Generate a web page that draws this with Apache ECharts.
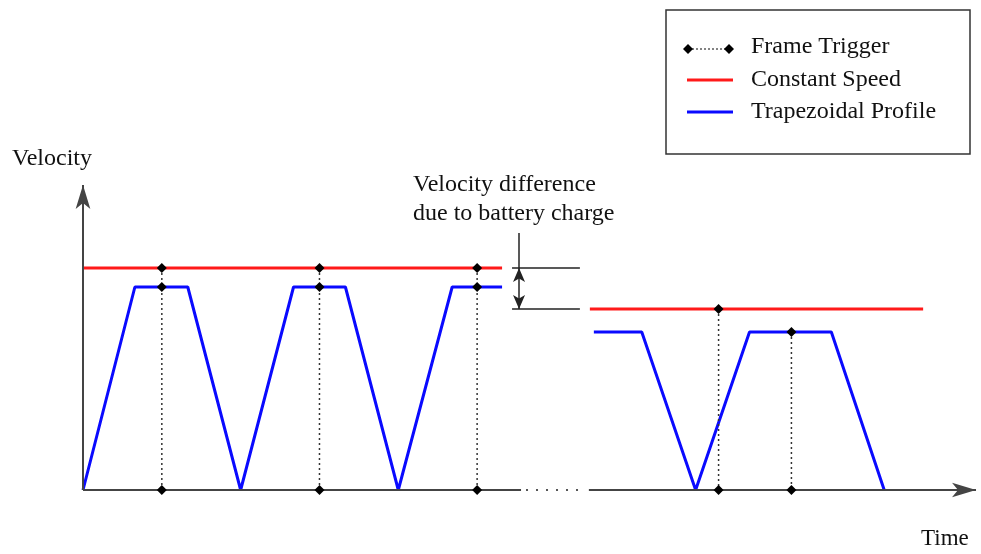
<!DOCTYPE html>
<html>
<head>
<meta charset="utf-8">
<script src="https://cdn.jsdelivr.net/npm/echarts@6/dist/echarts.min.js"></script>
<style>
  html, body { margin: 0; padding: 0; background: #fff; }
  #chart { width: 981px; height: 554px; }
</style>
</head>
<body>
<div id="chart"></div>
<script>
// time / velocity in arbitrary units
const blueRun1 = [[0, 0], [5.2, 20.3], [10.5, 20.3], [15.8, 0], [21.1, 20.3], [26.3, 20.3], [31.6, 0], [37.0, 20.3], [42.0, 20.3]]
const blueRun2 = [[51.2, 15.8], [56.0, 15.8], [61.4, 0], [66.8, 15.8], [75.0, 15.8], [80.3, 0]]
const redRun1 = [[0, 22.2], [42.0, 22.2]]
const redRun2 = [[50.8, 18.1], [84.2, 18.1]]
const triggerTimes = [7.9, 23.7, 39.5, 63.7, 71.0]
const triggerLevels = [[22.2, 20.3, 0], [22.2, 20.3, 0], [22.2, 20.3, 0], [18.1, 0], [15.8, 0]]
const legendLabels = ['Frame Trigger', 'Constant Speed', 'Trapezoidal Profile']
const annotationLines = ['Velocity difference', 'due to battery charge']

const FONT = 'Liberation Serif'
const myChart = echarts.init(document.getElementById('chart'))

const triggerSeries = triggerTimes.map(function(t, i) {
  return {
    name: 'Frame Trigger',
    type: 'line',
    z: 5,
    symbol: 'diamond',
    symbolSize: 10,
    itemStyle: { color: '#000' },
    lineStyle: { color: '#333', width: 1.5, type: [2, 3] },
    data: triggerLevels[i].map(function(v) { return [t, v] })
  }
})

function seg(a, b, s1, s2, size) {
  return [
    { coord: a, symbol: s1 || 'none', symbolSize: size },
    { coord: b, symbol: s2 || 'none', symbolSize: size }
  ]
}

function label(text, x, y, size) {
  return {
    type: 'text', x: x, y: y,
    style: { text: text, font: size + 'px ' + FONT, fill: '#111', verticalAlign: 'middle' }
  }
}

myChart.setOption({
  animation: false,
  grid: { left: 83, top: 180, width: 900, height: 310 },
  xAxis: {
    type: 'value', min: 0, max: 90,
    axisLine: { show: false }, axisTick: { show: false },
    axisLabel: { show: false }, splitLine: { show: false }
  },
  yAxis: {
    type: 'value', min: 0, max: 31,
    axisLine: { show: false }, axisTick: { show: false },
    axisLabel: { show: false }, splitLine: { show: false }
  },
  series: [
    {
      name: 'axes',
      type: 'line',
      data: [],
      silent: true,
      markLine: {
        silent: true,
        label: { show: false },
        lineStyle: { color: '#444', width: 2, type: 'solid' },
        data: [
          seg([0, 0], [0, 30.5], 'none', 'arrow', [11, 24]),
          seg([0, 0], [43.9, 0]),
          seg([50.7, 0], [89.5, 0], 'none', 'arrow', [11, 24]),
          // dotted break in time axis
          [{ coord: [44.4, 0], symbol: 'none', lineStyle: { type: [2, 8], color: '#555' } },
           { coord: [50.2, 0], symbol: 'none' }],
          // velocity difference annotation
          [{ coord: [43.0, 22.2], symbol: 'none', lineStyle: { color: '#222', width: 1.5 } },
           { coord: [49.8, 22.2], symbol: 'none' }],
          [{ coord: [43.0, 18.1], symbol: 'none', lineStyle: { color: '#222', width: 1.5 } },
           { coord: [49.8, 18.1], symbol: 'none' }],
          [{ coord: [43.7, 25.7], symbol: 'none', lineStyle: { color: '#222', width: 1.5 } },
           { coord: [43.7, 22.2], symbol: 'none' }],
          [{ coord: [43.7, 22.2], symbol: 'arrow', symbolSize: [9, 14], lineStyle: { color: '#222', width: 1.5 } },
           { coord: [43.7, 18.1], symbol: 'arrow', symbolSize: [9, 14] }]
        ]
      }
    },
    { name: 'Constant Speed', type: 'line', symbol: 'none', lineStyle: { color: '#ff1a1a', width: 3 }, data: redRun1 },
    { name: 'Constant Speed', type: 'line', symbol: 'none', lineStyle: { color: '#ff1a1a', width: 3 }, data: redRun2 },
    { name: 'Trapezoidal Profile', type: 'line', symbol: 'none', lineStyle: { color: '#0a0aff', width: 3 }, data: blueRun1 },
    { name: 'Trapezoidal Profile', type: 'line', symbol: 'none', lineStyle: { color: '#0a0aff', width: 3 }, data: blueRun2 }
  ].concat(triggerSeries),
  graphic: [
    label('Velocity', 12, 159, 24),
    label('Time', 921, 539, 23),
    label(annotationLines[0], 413, 185, 24),
    label(annotationLines[1], 413, 214, 24),
    {
      type: 'group', x: 666, y: 10,
      children: [
        { type: 'rect', shape: { x: 0, y: 0, width: 304, height: 144 }, style: { fill: '#fff', stroke: '#333', lineWidth: 1.5 } },
        { type: 'line', shape: { x1: 22, y1: 39, x2: 63, y2: 39 }, style: { stroke: '#333', lineWidth: 1.2, lineDash: [2, 2] } },
        { type: 'polygon', shape: { points: [[22, 34], [27, 39], [22, 44], [17, 39]] }, style: { fill: '#000' } },
        { type: 'polygon', shape: { points: [[63, 34], [68, 39], [63, 44], [58, 39]] }, style: { fill: '#000' } },
        { type: 'line', shape: { x1: 21, y1: 70, x2: 67, y2: 70 }, style: { stroke: '#ff1a1a', lineWidth: 3 } },
        { type: 'line', shape: { x1: 21, y1: 102, x2: 67, y2: 102 }, style: { stroke: '#0a0aff', lineWidth: 3 } },
        label(legendLabels[0], 85, 37, 24),
        label(legendLabels[1], 85, 70, 24),
        label(legendLabels[2], 85, 102, 24)
      ]
    }
  ]
})
</script>
</body>
</html>
